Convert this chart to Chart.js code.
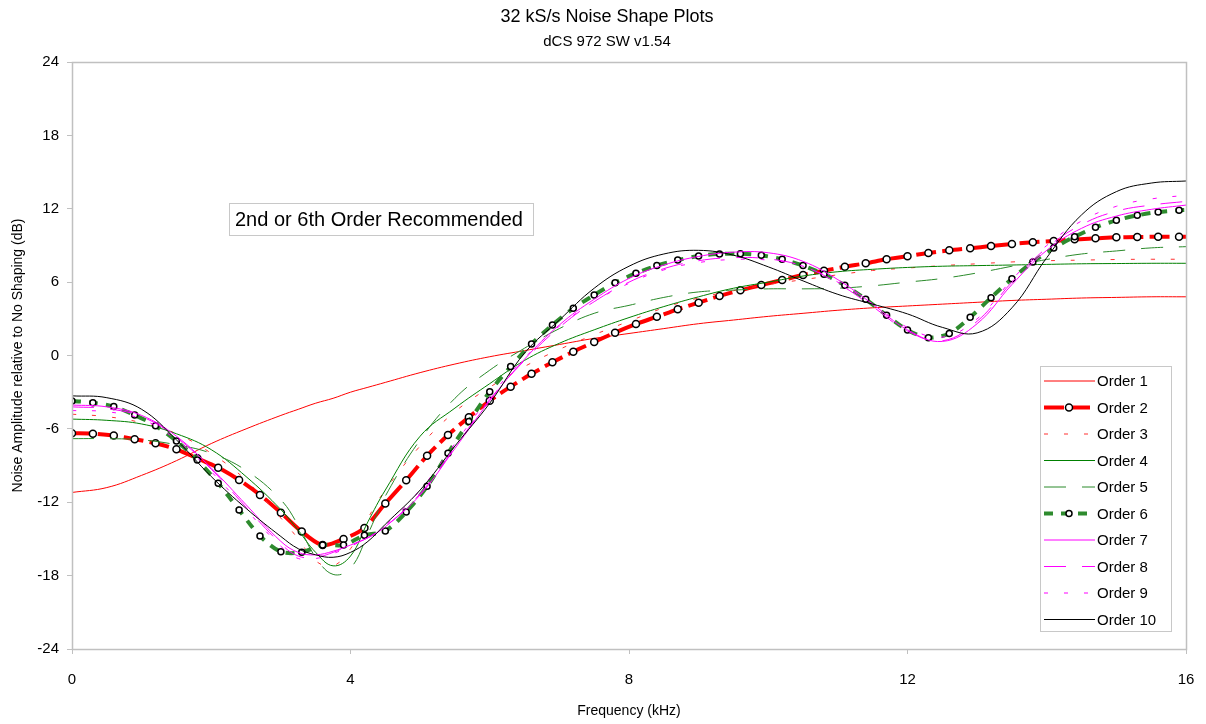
<!DOCTYPE html>
<html>
<head>
<meta charset="utf-8">
<script src="https://cdn.jsdelivr.net/npm/chart.js@4/dist/chart.umd.min.js"></script>
<style>html,body{margin:0;padding:0;background:#fff}canvas{display:block}</style>
</head>
<body>
<canvas id="c" width="1206" height="724"></canvas>
<script>
// Frequency points (kHz) of the marked series (orders 2 and 6)
const markerFreqs = [0,0.3,0.6,0.9,1.2,1.5,1.8,2.1,2.4,2.7,3,3.3,3.6,3.9,4.2,4.5,4.8,5.1,5.4,5.7,6,6.3,6.6,6.9,7.2,7.5,7.8,8.1,8.4,8.7,9,9.3,9.6,9.9,10.2,10.5,10.8,11.1,11.4,11.7,12,12.3,12.6,12.9,13.2,13.5,13.8,14.1,14.4,14.7,15,15.3,15.6,15.9,16];
const order2 = [-6.36,-6.39,-6.55,-6.85,-7.18,-7.67,-8.41,-9.17,-10.18,-11.4,-12.85,-14.4,-15.5,-15.0,-14.1,-12.1,-10.2,-8.2,-6.5,-5.05,-3.7,-2.55,-1.5,-0.56,0.31,1.1,1.87,2.57,3.17,3.78,4.32,4.87,5.33,5.76,6.17,6.58,6.93,7.26,7.54,7.87,8.12,8.38,8.6,8.77,8.95,9.12,9.26,9.36,9.5,9.58,9.66,9.69,9.71,9.71,9.71];
const order6 = [-3.72,-3.86,-4.18,-4.87,-5.74,-6.99,-8.54,-10.45,-12.63,-14.76,-16.04,-16.09,-15.5,-15.5,-14.7,-14.35,-12.8,-10.7,-8.0,-5.4,-2.96,-0.9,0.94,2.5,3.86,4.95,5.95,6.72,7.35,7.8,8.14,8.3,8.32,8.19,7.87,7.35,6.64,5.74,4.6,3.29,2.08,1.46,1.8,3.12,4.73,6.28,7.64,8.79,9.71,10.48,11.05,11.46,11.73,11.87,11.9];

// Frequency points (kHz) of the unmarked series
const lineFreqs = [0,0.5,1,1.5,2,2.5,3,3.25,3.5,3.75,4,4.25,4.5,5,5.5,6,6.5,7,7.5,8,8.5,9,9.5,10,10.5,11,11.5,12,12.5,13,13.5,14,14.5,15,15.5,16];
const order1 = [-11.2,-10.8,-9.8,-8.6,-7.2,-6.0,-4.9,-4.4,-3.9,-3.5,-3.0,-2.6,-2.2,-1.4,-0.7,-0.1,0.4,0.9,1.4,1.8,2.2,2.6,2.9,3.2,3.45,3.7,3.9,4.05,4.2,4.35,4.5,4.6,4.7,4.75,4.8,4.8];
const order3 = [-4.8,-5.0,-5.5,-6.4,-8.0,-10.2,-13.3,-15.0,-16.8,-17.2,-15.8,-13.3,-11.0,-7.4,-4.6,-2.6,-0.9,0.5,1.7,2.8,3.9,4.7,5.3,5.8,6.2,6.6,6.95,7.15,7.35,7.5,7.65,7.75,7.8,7.85,7.87,7.87];
const order4 = [-5.2,-5.3,-5.6,-6.4,-7.7,-9.9,-12.6,-14.3,-16.1,-17.2,-16.4,-13.6,-11.0,-6.6,-4.3,-2.3,-0.4,1.0,2.1,3.1,4.0,4.8,5.5,6.0,6.5,6.85,7.05,7.2,7.3,7.35,7.4,7.45,7.5,7.52,7.54,7.54];
const order5 = [-6.8,-6.8,-6.9,-7.3,-8.0,-9.4,-11.8,-13.9,-16.5,-17.9,-17.4,-14.6,-11.5,-6.9,-3.5,-1.2,0.6,2.2,3.45,4.1,4.75,5.2,5.35,5.45,5.45,5.5,5.7,6.0,6.3,6.75,7.3,7.85,8.3,8.55,8.8,8.9];
const order7 = [-4.05,-4.2,-4.9,-6.6,-9.2,-12.2,-15.2,-16.1,-16.3,-16.0,-15.5,-14.9,-14.0,-11.4,-7.6,-3.7,-0.3,2.5,4.6,6.3,7.4,8.1,8.45,8.4,7.7,6.2,4.2,2.1,1.15,2.6,5.8,8.6,10.4,11.4,11.95,12.3];
const order8 = [-4.2,-4.35,-5.0,-6.7,-9.3,-12.4,-15.4,-16.4,-16.5,-16.1,-15.5,-14.9,-14.0,-11.3,-7.5,-3.6,-0.4,2.3,4.4,6.0,7.1,7.75,8.0,7.9,7.3,5.9,4.0,2.0,1.2,2.8,6.0,8.8,10.7,11.8,12.3,12.6];
const order9 = [-4.5,-4.6,-5.2,-6.9,-9.5,-12.6,-15.6,-16.6,-16.6,-16.2,-15.6,-14.9,-13.9,-11.0,-7.2,-3.4,-0.2,2.4,4.4,5.9,7.0,7.6,7.85,7.8,7.3,6.0,4.2,2.3,1.5,3.0,6.2,9.0,11.0,12.2,12.8,13.1];
const order10 = [-3.3,-3.45,-4.4,-6.9,-9.9,-12.5,-14.8,-15.8,-16.3,-16.5,-16.1,-15.2,-13.8,-11.0,-7.4,-3.9,0.2,2.9,5.5,7.3,8.3,8.6,8.2,7.25,6.1,5.0,4.2,3.4,2.3,1.85,3.9,8.0,11.5,13.4,14.1,14.27];

const yTicks = [-24,-18,-12,-6,0,6,12,18,24];
const xTicks = [0,4,8,12,16];
const seriesNames = ['Order 1','Order 2','Order 3','Order 4','Order 5','Order 6','Order 7','Order 8','Order 9','Order 10'];

const FONT = "'Liberation Sans', Arial, Helvetica, sans-serif";
const FRAME = '#c0c0c0';

function pts(xs, ys) { return xs.map((x, i) => ({ x: x, y: ys[i] })); }

const styleList = [
  { xs: lineFreqs,   ys: order1,  color: '#ff0000', width: 1, dash: [] },
  { xs: markerFreqs, ys: order2,  color: '#ff0000', width: 4, dash: [20, 6], marker: 3.5 },
  { xs: lineFreqs,   ys: order3,  color: '#ff3030', width: 1, dash: [4, 16] },
  { xs: lineFreqs,   ys: order4,  color: '#008000', width: 1, dash: [] },
  { xs: lineFreqs,   ys: order5,  color: '#2a8a2a', width: 1, dash: [22, 16] },
  { xs: markerFreqs, ys: order6,  color: '#2e8b2e', width: 4, dash: [9, 8], marker: 3 },
  { xs: lineFreqs,   ys: order7,  color: '#ff00ff', width: 1, dash: [] },
  { xs: lineFreqs,   ys: order8,  color: '#ff00ff', width: 1, dash: [22, 16] },
  { xs: lineFreqs,   ys: order9,  color: '#ff00ff', width: 1, dash: [4, 16] },
  { xs: lineFreqs,   ys: order10, color: '#000000', width: 1, dash: [] }
];

const datasets = styleList.map((s, i) => ({
  label: seriesNames[i],
  data: pts(s.xs, s.ys),
  borderColor: s.color,
  backgroundColor: s.color,
  borderWidth: s.width,
  borderDash: s.dash,
  borderCapStyle: 'butt',
  tension: s.marker ? 0.3 : 0.4,
  fill: false,
  order: styleList.length - i,
  pointRadius: s.marker ? (ctx => ctx.dataIndex < s.xs.length - 1 ? s.marker : 0) : 0,
  pointHoverRadius: 0,
  pointBackgroundColor: '#ffffff',
  pointBorderColor: '#000000',
  pointBorderWidth: 1.5,
  _marker: s.marker || 0
}));

// Titles, frame, note box and in-plot legend
const decor = {
  id: 'decor',
  afterDatasetsDraw(chart) {
    const ctx = chart.ctx;
    const a = chart.chartArea;
    ctx.save();
    // plot frame
    ctx.strokeStyle = FRAME;
    ctx.lineWidth = 1.5;
    ctx.strokeRect(a.left + 0.5, a.top + 0.5, a.right - a.left, a.bottom - a.top);

    // note box
    ctx.fillStyle = '#ffffff';
    ctx.fillRect(229, 203, 304, 32);
    ctx.strokeStyle = '#c8c8c8';
    ctx.lineWidth = 1;
    ctx.strokeRect(229.5, 203.5, 304, 32);
    ctx.fillStyle = '#000';
    ctx.font = '20px ' + FONT;
    ctx.textAlign = 'left';
    ctx.textBaseline = 'middle';
    ctx.fillText('2nd or 6th Order Recommended', 235, 220);

    // legend
    const lx = 1040, ly = 366, lw = 131, lh = 265;
    ctx.fillStyle = '#ffffff';
    ctx.fillRect(lx, ly, lw, lh);
    ctx.strokeStyle = '#c8c8c8';
    ctx.lineWidth = 1;
    ctx.strokeRect(lx + 0.5, ly + 0.5, lw, lh);
    chart.data.datasets.forEach((d, i) => {
      const y = 381 + i * 26.5;
      ctx.save();
      ctx.strokeStyle = d.borderColor;
      ctx.lineWidth = d.borderWidth;
      ctx.setLineDash(d.borderDash);
      ctx.lineCap = 'butt';
      ctx.beginPath();
      ctx.moveTo(1044, y);
      ctx.lineTo(1095, y);
      ctx.stroke();
      ctx.restore();
      if (d._marker) {
        ctx.beginPath();
        ctx.arc(1069, y, d._marker, 0, Math.PI * 2);
        ctx.fillStyle = '#fff';
        ctx.fill();
        ctx.lineWidth = 1.5;
        ctx.strokeStyle = '#000';
        ctx.stroke();
      }
      ctx.fillStyle = '#000';
      ctx.font = '15px ' + FONT;
      ctx.textAlign = 'left';
      ctx.textBaseline = 'middle';
      ctx.fillText(d.label, 1097, y + 1);
    });

    // titles
    ctx.fillStyle = '#000';
    ctx.textAlign = 'center';
    ctx.textBaseline = 'middle';
    ctx.font = '18px ' + FONT;
    ctx.fillText('32 kS/s Noise Shape Plots', 607, 17);
    ctx.font = '15px ' + FONT;
    ctx.fillText('dCS 972 SW v1.54', 607, 42);
    ctx.font = '14px ' + FONT;
    ctx.fillText('Frequency (kHz)', (a.left + a.right) / 2, 711);
    ctx.save();
    ctx.translate(18, (a.top + a.bottom) / 2);
    ctx.rotate(-Math.PI / 2);
    ctx.fillText('Noise Amplitude relative to No Shaping (dB)', 0, 0);
    ctx.restore();
    ctx.restore();
  }
};

new Chart(document.getElementById('c'), {
  type: 'line',
  data: { datasets: datasets },
  options: {
    responsive: false,
    animation: false,
    devicePixelRatio: 1,
    layout: { padding: { top: 62, right: 20, left: 0, bottom: 0 } },
    plugins: { legend: { display: false }, tooltip: { enabled: false }, title: { display: false } },
    scales: {
      x: {
        type: 'linear',
        min: xTicks[0],
        max: xTicks[xTicks.length - 1],
        afterBuildTicks: s => { s.ticks = xTicks.map(v => ({ value: v })); },
        afterFit: s => { s.height = 75; s.paddingRight = 0; s.paddingLeft = 0; },
        border: { display: false },
        grid: { display: true, drawOnChartArea: false, drawTicks: true, tickLength: 5, color: FRAME },
        ticks: { font: { family: FONT, size: 15 }, color: '#000', padding: 17, maxRotation: 0 }
      },
      y: {
        type: 'linear',
        min: yTicks[0],
        max: yTicks[yTicks.length - 1],
        afterBuildTicks: s => { s.ticks = yTicks.map(v => ({ value: v })); },
        afterFit: s => { s.width = 72; s.paddingTop = 0; s.paddingBottom = 0; },
        border: { display: false },
        grid: { display: true, drawOnChartArea: false, drawTicks: true, tickLength: 5, color: FRAME },
        ticks: { font: { family: FONT, size: 15 }, color: '#000', padding: 8 }
      }
    }
  },
  plugins: [decor]
});
</script>
</body>
</html>
